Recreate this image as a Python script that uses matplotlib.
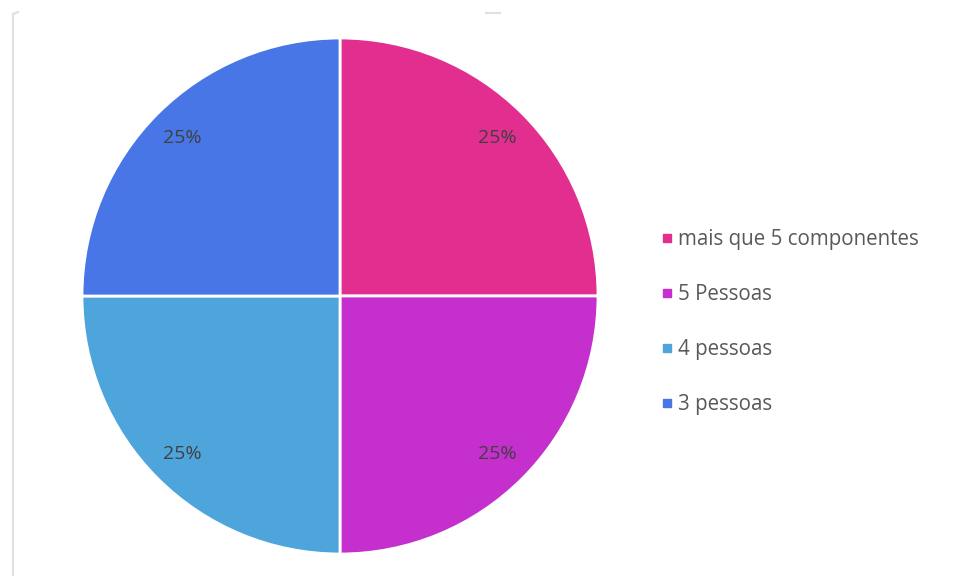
import matplotlib.pyplot as plt
from matplotlib.lines import Line2D

plt.rcParams['font.family'] = ['Open Sans', 'DejaVu Sans']

# pie data, clockwise from 12 o'clock
categorias = ['mais que 5 componentes', '5 Pessoas', '4 pessoas', '3 pessoas']
valores = [25, 25, 25, 25]
cores = ['#E22E8F', '#C42FCD', '#4EA5DB', '#4876E6']

fig = plt.figure(figsize=(9.6, 5.76), dpi=100)
ax = fig.add_axes([82 / 960, 22 / 576, 516 / 960, 516 / 576])

wedges, textos, autotextos = ax.pie(
    valores, colors=cores, startangle=90, counterclock=False,
    autopct='%1.0f%%', pctdistance=0.865,
    wedgeprops=dict(edgecolor='white', linewidth=2),
    textprops=dict(color='#404040', fontsize=14))
ax.set_xlim(-1, 1)
ax.set_ylim(-1, 1)
ax.set_aspect('equal')

# legend on the right
handles = [Line2D([], [], marker='s', linestyle='', markersize=6,
                  markerfacecolor=c, markeredgecolor=c) for c in cores]
fig.legend(handles, categorias, loc='center left', bbox_to_anchor=(646 / 960, 1 - 322 / 576),
           frameon=False, fontsize=14.8, labelcolor='#595959', borderpad=0,
           handletextpad=0.05, labelspacing=1.65, handlelength=1.0)

# faint frame remnants of the original screenshot
fig.add_artist(Line2D([13 / 960, 13 / 960], [0, 1 - 14 / 576],
                      color='#E0E0E0', linewidth=1.5, transform=fig.transFigure))
fig.add_artist(Line2D([13 / 960, 18 / 960], [1 - 14 / 576, 1 - 12 / 576],
                      color='#E0E0E0', linewidth=1.5, transform=fig.transFigure))
fig.add_artist(Line2D([486 / 960, 500 / 960], [1 - 13 / 576, 1 - 13 / 576],
                      color='#E0E0E0', linewidth=1.5, transform=fig.transFigure))

fig.savefig('out.png', dpi=100, facecolor='white')
